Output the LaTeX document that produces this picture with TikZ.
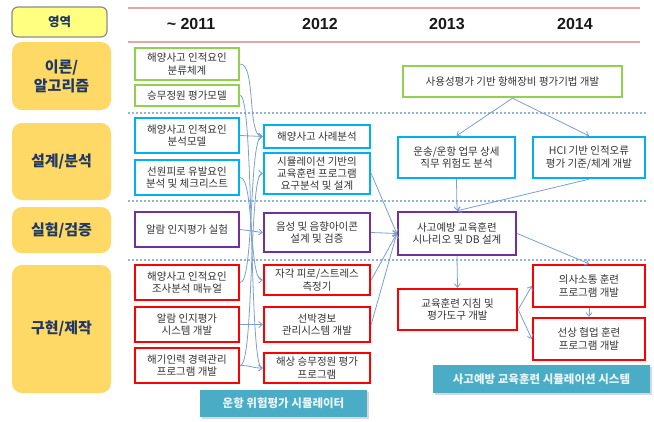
\documentclass[tikz,border=0pt]{standalone}
\usepackage{fontspec}
\setmainfont{Liberation Sans}
\newfontfamily\kr{Noto Sans CJK KR}
\usetikzlibrary{arrows.meta,shadows}
\definecolor{cgreen}{HTML}{92D050}
\definecolor{cblue}{HTML}{00B0F0}
\definecolor{cpurple}{HTML}{7030A0}
\definecolor{cred}{HTML}{FF0000}
\definecolor{catfill}{HTML}{FFD966}
\definecolor{navy}{HTML}{1F3864}
\definecolor{arr}{HTML}{7C9FD3}
\definecolor{bannerfill}{HTML}{4BACC6}
\definecolor{hdrline}{HTML}{E8A5A5}
\definecolor{dotline}{HTML}{95B3D7}
\definecolor{hdrfill}{HTML}{FFFF80}
\begin{document}
\begin{tikzpicture}[x=1pt,y=-1pt,
  box/.style={draw,line width=2.4pt,fill=white,align=center,inner sep=1pt,
    font=\kr\fontsize{10.5}{12.3}\selectfont,text=black!80},
  gbox/.style={box,draw=cgreen},
  bbox/.style={box,draw=cblue},
  pbox/.style={box,draw=cpurple},
  rbox/.style={box,draw=cred},
  c1/.style={minimum width=104pt},
  c2/.style={minimum width=106pt},
  catbox/.style={fill=catfill,rounded corners=10pt,align=center,minimum width=99pt,
    font=\kr\bfseries\fontsize{15}{19}\selectfont,text=navy},
  banner/.style={fill=bannerfill,drop shadow={shadow xshift=2pt,shadow yshift=-2pt,fill=black!30},
    font=\kr\bfseries\fontsize{11.5}{13}\selectfont,text=white!88!bannerfill},
  conn/.style={draw=arr,line width=0.8pt,-{Straight Barb[length=3.5pt,width=6pt]}},
  year/.style={font=\bfseries\fontsize{16}{18}\selectfont,text=black!90},
  sep/.style={draw=dotline,line width=1.3pt,dash pattern=on 1.5pt off 2.5pt}
]
\useasboundingbox[fill=white] (0,0) rectangle (654,421);

% header
\node[draw=black!45,line width=1.2pt,fill=hdrfill,rounded corners=6pt,minimum width=95pt,minimum height=30pt,
  font=\kr\bfseries\fontsize{12.5}{14}\selectfont,text=navy] (hd) at (59.5,22) {영역};
\coordinate (hl1a) at (128,8);  \coordinate (hl1b) at (640,8);
\coordinate (hl2a) at (128,42); \coordinate (hl2b) at (640,42);
\draw[hdrline,line width=1.2pt] (hl1a) -- (hl1b);
\draw[hdrline,line width=1.2pt] (hl2a) -- (hl2b);
\node[year] (y1) at (191,24) {\textasciitilde\ 2011};
\node[year] (y2) at (320,24) {2012};
\node[year] (y3) at (447,24) {2013};
\node[year] (y4) at (575,24) {2014};

% separators
\coordinate (s1a) at (128,113); \coordinate (s1b) at (648,113);
\coordinate (s2a) at (128,201); \coordinate (s2b) at (648,201);
\coordinate (s3a) at (128,260); \coordinate (s3b) at (648,260);
\draw[sep] (s1a) -- (s1b);
\draw[sep] (s2a) -- (s2b);
\draw[sep] (s3a) -- (s3b);

% categories
\node[catbox,minimum height=68pt] (k1) at (61.5,76) {이론/\\알고리즘};
\node[catbox,minimum height=77pt] (k2) at (61.5,161.5) {설계/분석};
\node[catbox,minimum height=46pt] (k3) at (61.5,230) {실험/검증};
\node[catbox,minimum height=128pt] (k4) at (61.5,329) {구현/제작};

% column 1
\node[gbox,c1,minimum height=32pt] (a1) at (187,64) {해양사고 인적요인\\분류체계};
\node[gbox,c1,minimum height=21pt] (a2) at (187,95.5) {승무정원 평가모델};
\node[bbox,c1,minimum height=35pt] (b1) at (187,135.5) {해양사고 인적요인\\분석모델};
\node[bbox,c1,minimum height=35pt] (b2) at (187,177.5) {선원피로 유발요인\\분석 및 체크리스트};
\node[pbox,c1,minimum height=35pt] (c1) at (187,229.5) {알람 인지평가 실험};
\node[rbox,c1,minimum height=35pt] (d1) at (187,282.5) {해양사고 인적요인\\조사분석 매뉴얼};
\node[rbox,c1,minimum height=35pt] (d2) at (187,324.5) {알람 인지평가\\시스템 개발};
\node[rbox,c1,minimum height=35pt] (d3) at (187,365.5) {해기인력 경력관리\\프로그램 개발};

% column 2
\node[bbox,c2,minimum height=23pt] (e1) at (317,136.5) {해양사고 사례분석};
\node[bbox,c2,minimum height=41pt] (e2) at (317,173.5) {시뮬레이션 기반의\\교육훈련 프로그램\\요구분석 및 설계};
\node[pbox,c2,minimum height=39pt] (f1) at (317,232.5) {음성 및 음향아이콘\\설계 및 검증};
\node[rbox,c2,minimum height=30pt] (g1) at (317,280) {자각 피로/스트레스\\측정기};
\node[rbox,c2,minimum height=35pt] (g2) at (317,324.5) {선박경보\\관리시스템 개발};
\node[rbox,c2,minimum height=30pt] (g3) at (317,368) {해상 승무정원 평가\\프로그램};
\node[banner,minimum width=167pt,minimum height=27pt] (ban1) at (283.5,403.5) {운항 위험평가 시뮬레이터};

% column 3/4
\node[gbox,minimum width=219pt,minimum height=31pt] (h0) at (512.5,81.5) {사용성평가 기반 항해장비 평가기법 개발};
\node[bbox,minimum width=117pt,minimum height=41pt] (h1) at (456.5,157.5) {운송/운항 업무 상세\\직무 위험도 분석};
\node[bbox,minimum width=112pt,minimum height=41pt] (h2) at (589,157.5) {HCI 기반 인적오류\\평가 기준/체계 개발};
\node[pbox,minimum width=118pt,minimum height=43pt] (i1) at (457,233.5) {사고예방 교육훈련\\시나리오 및 DB 설계};
\node[rbox,minimum width=119pt,minimum height=41pt] (j1) at (457.5,309.5) {교육훈련 지침 및\\평가도구 개발};
\node[rbox,minimum width=112pt,minimum height=42pt] (m1) at (589,286) {의사소통 훈련\\프로그램 개발};
\node[rbox,minimum width=112pt,minimum height=42pt] (m2) at (589,339) {선상 협업 훈련\\프로그램 개발};
\node[banner,minimum width=217pt,minimum height=28pt] (ban2) at (541.5,379) {사고예방 교육훈련 시뮬레이션 시스템};

% col1 -> col2 bundle
\draw[conn] (a1.east) .. controls +(16,0) and +(-16,0) .. (e1.west);
\draw[conn] (b1.east) -- (e1.west);
\draw[conn] (d1.east) .. controls +(14,0) and +(-14,0) .. (e1.west);
\draw[conn] (d3.east) .. controls +(14,0) and +(-14,0) .. (e2.west);
\draw[conn] (a2.east) .. controls +(14,0) and +(-14,0) .. (g3.west);
\draw[conn] (b2.east) .. controls +(14,0) and +(-14,0) .. (g1.west);
\draw[conn] (c1.east) -- (f1.west);
\draw[conn] (d2.east) -- (g2.west);
\draw[conn] (d3.east) .. controls +(12,0) and +(-12,0) .. (g3.west);

% col2 -> i1
\draw[conn] (e2.east) -- (i1.west);
\draw[conn] (f1.east) -- (i1.west);
\draw[conn] (g1.east) -- (i1.west);
\draw[conn] (g2.east) -- (i1.west);

% col3/4
\draw[conn] (h0.south) -- (h1.north);
\draw[conn] (h0.south) -- (h2.north);
\draw[conn] (h1.south) -- (i1.north);
\draw[conn] (h2.south) -- (i1.north);
\draw[conn] (i1.south) -- (j1.north);
\draw[conn] (i1.east) -- (m1.north);
\draw[conn] (j1.east) -- (m1.west);
\draw[conn] (j1.east) -- (m2.west);
\draw[conn] (m1.south) -- (m2.north);
\end{tikzpicture}
\end{document}
